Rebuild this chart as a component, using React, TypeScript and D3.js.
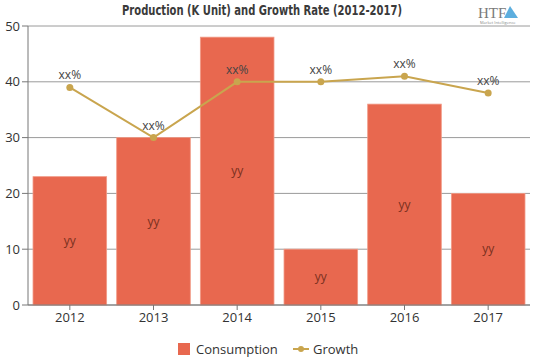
import React from "react";
import * as d3 from "d3";

const categories = ["2012", "2013", "2014", "2015", "2016", "2017"];
const consumption = [23, 30, 48, 10, 36, 20];
const growth = [39, 30, 40, 40, 41, 38];
const yTicks = [0, 10, 20, 30, 40, 50];
const barLabel = "yy";
const pointLabel = "xx%";

const W = 539, H = 359;
const M = { left: 28, right: 9, top: 26, bottom: 54 };

export default function App() {
  const x = d3.scaleBand<string>().domain(categories).range([M.left, W - M.right]).paddingInner(0.12).paddingOuter(0.06);
  const y = d3.scaleLinear().domain([0, 50]).range([H - M.bottom, M.top]);
  const xc = (c: string) => (x(c) as number) + x.bandwidth() / 2;
  const line = d3.line<number>().x((_, i) => xc(categories[i])).y((d) => y(d));
  const font = "'Segoe UI', 'Open Sans', 'DejaVu Sans', sans-serif";
  const barColor = "#E8684F";
  const lineColor = "#C9A54E";
  return (
    <svg width={W} height={H} style={{ position: "absolute", left: 0, top: 0, background: "#fff" }} fontFamily={font}>
      <text x={122} y={15} textLength={280} lengthAdjust="spacingAndGlyphs" fontFamily="'DejaVu Sans Condensed', 'Liberation Sans Narrow', sans-serif" fontWeight="bold" fontSize={14} fill="#3a3a3a">
        Production (K Unit) and Growth Rate (2012-2017)
      </text>
      <g transform="translate(478,2)">
        <text x={0} y={16} fontSize={15} fill="#7a7a7a" fontFamily="'Liberation Serif', serif">HTF</text>
        <path d="M32,4 L40,16 L26,16 Z" fill="#3fa0d8" opacity={0.85} />
        <text x={2} y={22} fontSize={4} fill="#888">Market Intelligence</text>
      </g>
      {yTicks.map((t) => (
        <g key={t}>
          <line x1={M.left} x2={W - M.right} y1={y(t)} y2={y(t)} stroke="#9a9a9a" strokeWidth={1} />
          <line x1={M.left - 6} x2={M.left} y1={y(t)} y2={y(t)} stroke="#777" />
          <text x={M.left - 8} y={y(t)} dy="0.35em" textAnchor="end" fontSize={13} fill="#333">{t}</text>
        </g>
      ))}
      {categories.map((c, i) => (
        <g key={c}>
          <rect x={x(c)} y={y(consumption[i])} width={x.bandwidth()} height={y(0) - y(consumption[i])} fill={barColor} stroke="#F19A86" strokeWidth={0.8} />
          <text x={xc(c)} y={y(consumption[i] / 2)} dy="0.35em" textAnchor="middle" fontSize={12} fill="#7a3020">{barLabel}</text>
          <line x1={xc(c)} x2={xc(c)} y1={y(0)} y2={y(0) + 5} stroke="#777" />
          <text x={xc(c)} y={y(0) + 17} textAnchor="middle" fontSize={13} fill="#333">{c}</text>
        </g>
      ))}
      <line x1={M.left} x2={M.left} y1={M.top} y2={y(0)} stroke="#777" />
      <line x1={M.left} x2={W - M.right} y1={y(0)} y2={y(0)} stroke="#777" />
      <path d={line(growth) as string} fill="none" stroke={lineColor} strokeWidth={2} />
      {categories.map((c, i) => (
        <g key={c}>
          <circle cx={xc(c)} cy={y(growth[i])} r={3.5} fill={lineColor} />
          <text x={xc(c)} y={y(growth[i]) - 8} textAnchor="middle" fontSize={12} fill="#444">{pointLabel}</text>
        </g>
      ))}
      <g transform="translate(178,343)">
        <rect x={0} y={0} width={12} height={12} fill={barColor} />
        <text x={18} y={11} fontSize={13} fill="#333" fontWeight={500}>Consumption</text>
        <line x1={115} x2={131} y1={6} y2={6} stroke={lineColor} strokeWidth={2} />
        <circle cx={123} cy={6} r={3} fill={lineColor} />
        <text x={135} y={11} fontSize={13} fill="#333" fontWeight={500}>Growth</text>
      </g>
    </svg>
  );
}
